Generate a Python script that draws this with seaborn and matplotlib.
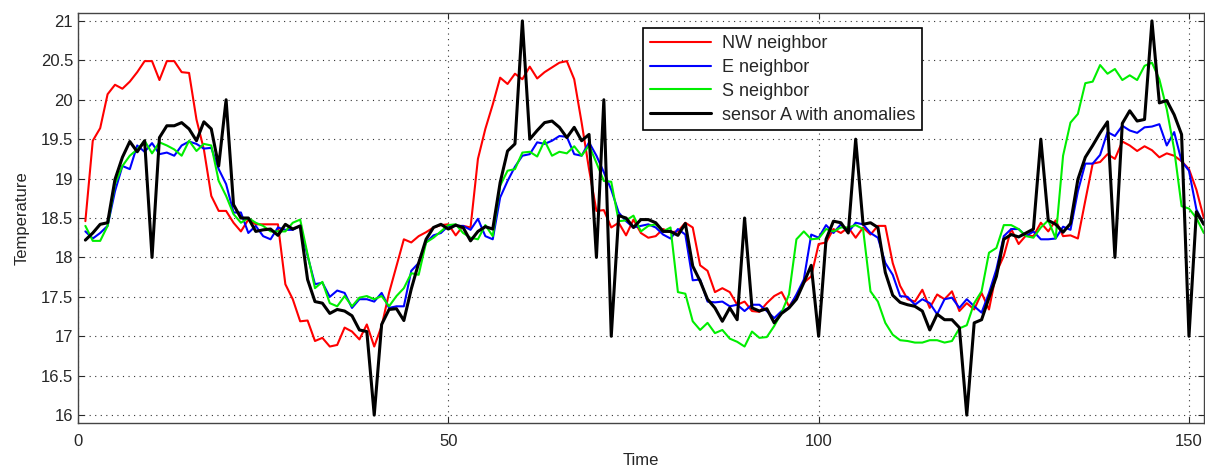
import numpy as np
import pandas as pd
import matplotlib
matplotlib.use("Agg")
import matplotlib.pyplot as plt
import seaborn as sns

# time axis
time = np.arange(1, 153)

# NW neighbor (red)
nw = [18.46, 19.48, 19.64, 20.07, 20.19, 20.14, 20.23, 20.35, 20.49, 20.49, 20.25, 20.49, 20.49, 20.35, 20.34,
      19.75, 19.37, 18.78, 18.59, 18.59, 18.44, 18.33, 18.48, 18.42, 18.42, 18.42, 18.42, 17.66, 17.47, 17.19,
      17.2, 16.94, 16.98, 16.87, 16.89, 17.11, 17.06, 16.96, 17.15, 16.87, 17.13, 17.55, 17.89, 18.23, 18.19,
      18.27, 18.32, 18.38, 18.41, 18.42, 18.28, 18.4, 18.38, 19.25, 19.63, 19.94, 20.28, 20.2, 20.33, 20.26,
      20.42, 20.27, 20.35, 20.41, 20.47, 20.49, 20.26, 19.71, 19.12, 18.59, 18.6, 18.38, 18.44, 18.28, 18.48,
      18.31, 18.25, 18.27, 18.36, 18.32, 18.33, 18.44, 18.38, 17.9, 17.83, 17.56, 17.61, 17.56, 17.4, 17.44,
      17.32, 17.31, 17.42, 17.51, 17.56, 17.38, 17.51, 17.68, 17.76, 18.17, 18.19, 18.36, 18.31, 18.38, 18.25,
      18.38, 18.29, 18.4, 18.4, 17.93, 17.64, 17.47, 17.44, 17.59, 17.36, 17.53, 17.47, 17.57, 17.32, 17.42,
      17.34, 17.55, 17.34, 17.81, 18.02, 18.36, 18.17, 18.28, 18.27, 18.44, 18.33, 18.47, 18.27, 18.28, 18.24,
      18.72, 19.19, 19.21, 19.31, 19.25, 19.47, 19.42, 19.35, 19.41, 19.36, 19.27, 19.32, 19.29, 19.22, 19.12,
      18.86, 18.5]

# E neighbor (blue)
e = [18.33, 18.24, 18.31, 18.4, 18.84, 19.16, 19.12, 19.42, 19.34, 19.45, 19.31, 19.33, 19.29, 19.42, 19.47,
     19.44, 19.38, 19.39, 19.12, 18.93, 18.57, 18.57, 18.31, 18.4, 18.27, 18.23, 18.38, 18.35, 18.35, 18.4,
     18.02, 17.66, 17.68, 17.5, 17.58, 17.55, 17.36, 17.47, 17.47, 17.44, 17.55, 17.36, 17.38, 17.38, 17.83,
     17.93, 18.19, 18.28, 18.31, 18.4, 18.4, 18.4, 18.35, 18.49, 18.27, 18.23, 18.76, 18.97, 19.15, 19.29,
     19.31, 19.46, 19.44, 19.48, 19.54, 19.53, 19.31, 19.29, 19.46, 19.29, 19.08, 18.86, 18.57, 18.46, 18.38,
     18.4, 18.42, 18.38, 18.29, 18.24, 18.36, 18.29, 17.71, 17.72, 17.44, 17.43, 17.44, 17.38, 17.4, 17.32,
     17.4, 17.4, 17.32, 17.23, 17.32, 17.36, 17.53, 17.72, 18.29, 18.25, 18.41, 18.31, 18.42, 18.32, 18.44,
     18.42, 18.31, 18.25, 17.93, 17.78, 17.51, 17.5, 17.4, 17.47, 17.42, 17.28, 17.47, 17.49, 17.36, 17.47,
     17.38, 17.3, 17.55, 17.85, 18.27, 18.36, 18.36, 18.27, 18.33, 18.23, 18.23, 18.24, 18.39, 18.35, 18.84,
     19.19, 19.19, 19.3, 19.59, 19.54, 19.67, 19.61, 19.58, 19.65, 19.66, 19.69, 19.42, 19.59, 19.22, 19.1,
     18.61, 18.42]

# S neighbor (green)
s = [18.4, 18.21, 18.21, 18.4, 18.93, 19.16, 19.29, 19.37, 19.48, 19.32, 19.46, 19.42, 19.37, 19.29, 19.48,
     19.35, 19.44, 19.42, 18.97, 18.78, 18.55, 18.44, 18.5, 18.44, 18.4, 18.33, 18.33, 18.33, 18.44, 18.48,
     18.04, 17.61, 17.69, 17.42, 17.38, 17.51, 17.38, 17.49, 17.51, 17.47, 17.51, 17.38, 17.51, 17.61, 17.8,
     17.78, 18.19, 18.25, 18.33, 18.41, 18.42, 18.31, 18.25, 18.23, 18.41, 18.27, 18.91, 19.1, 19.12, 19.33,
     19.34, 19.28, 19.48, 19.29, 19.34, 19.32, 19.41, 19.29, 19.42, 19.2, 18.97, 18.96, 18.46, 18.47, 18.53,
     18.33, 18.4, 18.42, 18.33, 18.38, 17.56, 17.54, 17.19, 17.08, 17.17, 17.04, 17.08, 16.97, 16.93, 16.87,
     17.06, 16.98, 16.99, 17.13, 17.3, 17.53, 18.23, 18.33, 18.23, 18.24, 18.36, 18.33, 18.38, 18.38, 18.41,
     18.36, 17.57, 17.44, 17.17, 17.02, 16.95, 16.94, 16.92, 16.92, 16.95, 16.95, 16.92, 16.94, 17.1, 17.14,
     17.42, 17.57, 18.06, 18.12, 18.41, 18.41, 18.36, 18.27, 18.25, 18.38, 18.47, 18.24, 19.29, 19.71, 19.82,
     20.21, 20.23, 20.44, 20.33, 20.39, 20.25, 20.31, 20.25, 20.43, 20.47, 20.26, 19.88, 19.37, 18.65, 18.62,
     18.5, 18.31]

# sensor A with anomalies (black)
sensor_a = [18.22, 18.31, 18.42, 18.44, 18.99, 19.27, 19.47, 19.34, 19.48, 18.0, 19.52, 19.67, 19.67, 19.71, 19.63,
            19.48, 19.72, 19.63, 19.16, 20.0, 18.67, 18.5, 18.5, 18.33, 18.35, 18.36, 18.28, 18.42, 18.36, 18.4,
            17.72, 17.44, 17.42, 17.29, 17.34, 17.32, 17.26, 17.08, 17.06, 16.0, 17.15, 17.34, 17.35, 17.2, 17.6,
            17.93, 18.23, 18.38, 18.42, 18.36, 18.41, 18.38, 18.21, 18.33, 18.39, 18.36, 18.95, 19.35, 19.44, 21.0,
            19.5, 19.61, 19.71, 19.73, 19.65, 19.52, 19.65, 19.48, 19.56, 18.0, 20.0, 17.0, 18.53, 18.5, 18.38,
            18.48, 18.48, 18.44, 18.33, 18.33, 18.28, 18.43, 17.89, 17.7, 17.47, 17.36, 17.19, 17.36, 17.21, 18.5,
            17.36, 17.32, 17.35, 17.17, 17.29, 17.36, 17.47, 17.68, 17.9, 17.0, 18.23, 18.46, 18.44, 18.31, 19.5,
            18.42, 18.44, 18.38, 17.81, 17.52, 17.43, 17.4, 17.38, 17.32, 17.08, 17.28, 17.21, 17.21, 17.11, 16.0,
            17.17, 17.21, 17.49, 17.76, 18.23, 18.29, 18.26, 18.31, 18.36, 19.5, 18.47, 18.42, 18.32, 18.43, 18.99,
            19.27, 19.42, 19.58, 19.72, 18.0, 19.7, 19.86, 19.73, 19.75, 21.0, 19.96, 19.99, 19.81, 19.56, 17.0,
            18.58, 18.42]

series = [
    ("NW neighbor", nw, "#ff0000", 1.5),
    ("E neighbor", e, "#0000ff", 1.5),
    ("S neighbor", s, "#00ee00", 1.5),
    ("sensor A with anomalies", sensor_a, "#000000", 2.2),
]

sns.set_style("ticks")
plt.rcParams["font.family"] = ["Liberation Sans", "DejaVu Sans"]

fig = plt.figure(figsize=(12.05, 4.7), dpi=100)
ax = fig.add_axes([0.0647, 0.1, 0.9343, 0.8723])

for name, vals, col, lw in series:
    df = pd.DataFrame({"Time": time, "Temperature": vals})
    sns.lineplot(data=df, x="Time", y="Temperature", color=col, linewidth=lw, label=name, ax=ax)

ax.set_xlim(0, 152)
ax.set_ylim(15.9, 21.1)
ax.set_xticks([0, 50, 100, 150])
yt = np.arange(16, 21.01, 0.5)
ax.set_yticks(yt)
ax.set_yticklabels([f"{v:g}" for v in yt])
ax.tick_params(direction="in", labelsize=12, length=4, top=True, right=True, width=0.8)
ax.tick_params(axis="x", pad=8)
ax.grid(True, linestyle=(0, (1, 4)), color="#333333", linewidth=0.8)
for sp in ax.spines.values():
    sp.set_visible(True)
    sp.set_color("#444444")
    sp.set_linewidth(1.0)

ax.set_xlabel("Time", fontsize=12, labelpad=3)
ax.set_ylabel("Temperature", fontsize=12, labelpad=8)

leg = ax.legend(loc="upper left", bbox_to_anchor=(0.502, 0.963), borderaxespad=0,
                fontsize=13, handlelength=3.4, fancybox=False, framealpha=1,
                edgecolor="black", borderpad=0.38, labelspacing=0.38, handletextpad=0.6)
leg.get_frame().set_linewidth(1.2)

fig.savefig("out.png", dpi=100)
